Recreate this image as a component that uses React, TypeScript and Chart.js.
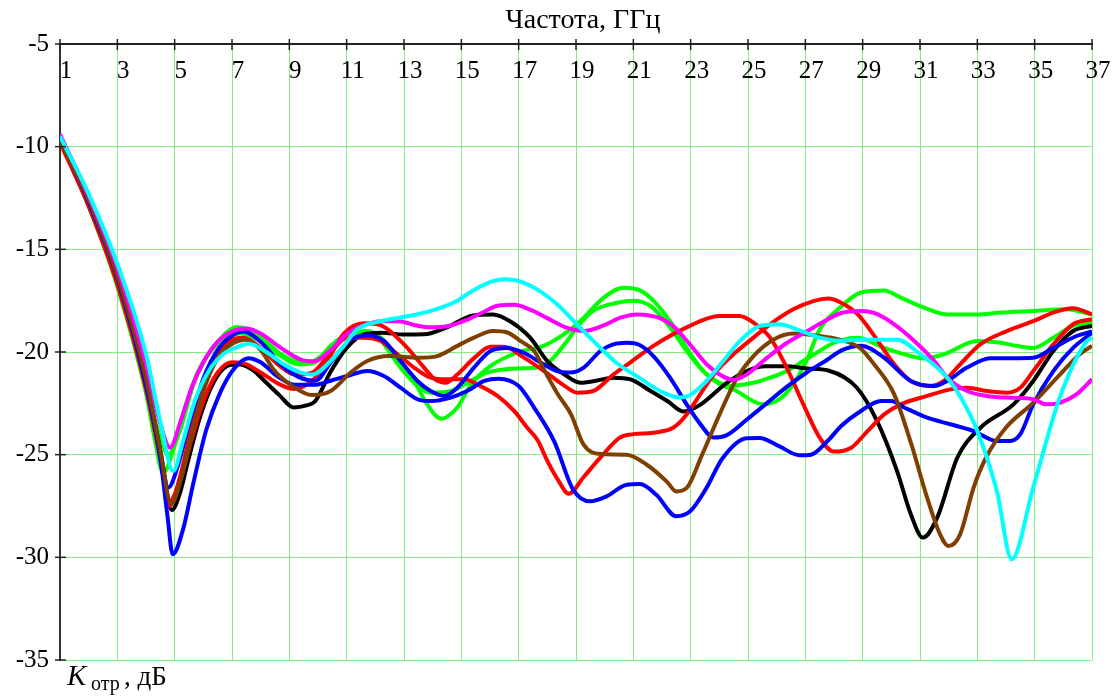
import { useEffect, useRef } from 'react';
import { Chart, registerables } from 'chart.js';

Chart.register(...registerables);

const FONT = '"Liberation Serif", "Times New Roman", serif';
const GRID = '#84ee84';

const xTicks = [1, 3, 5, 7, 9, 11, 13, 15, 17, 19, 21, 23, 25, 27, 29, 31, 33, 35, 37];
const yTicks = [-5, -10, -15, -20, -25, -30, -35];
const titleText = 'Частота, ГГц';

const cyanPts: number[][] = [[1,-9.5],[2,-12.3],[3,-15.7],[4,-20.1],[4.5,-23.4],[4.95,-25.8],[5.3,-24.3],[5.7,-22.4],[6.2,-20.9],[6.7,-20.1],[7.2,-19.75],[7.6,-19.6],[8.2,-20.0],[8.8,-20.6],[9.4,-21.0],[9.8,-21.1],[10.44,-20.44],[10.9,-19.7],[11.37,-18.9],[12.19,-18.5],[13.35,-18.2],[14.16,-17.9],[14.86,-17.5],[15.3,-17.1],[16.0,-16.6],[16.5,-16.46],[17.0,-16.54],[17.64,-16.95],[18.34,-17.68],[19.03,-18.65],[19.73,-19.63],[20.43,-20.55],[21.2,-21.25],[21.93,-21.9],[22.63,-22.22],[22.98,-22.1],[23.56,-21.4],[24.14,-20.44],[24.72,-19.46],[25.42,-18.73],[26.1,-18.65],[26.8,-18.95],[27.5,-19.3],[28.2,-19.45],[29.0,-19.4],[30.2,-19.4],[31.0,-20.1],[31.95,-21.25],[32.5,-22.4],[33.0,-23.85],[33.68,-26.77],[34.2,-30.1],[34.95,-26.6],[35.88,-22.2],[36.8,-19.5],[37,-19.3]];

const magentaPts: number[][] = [[1,-9.4],[2,-12.4],[3,-15.9],[4,-20.6],[4.5,-23.5],[4.84,-24.66],[5.2,-23.4],[5.6,-21.7],[6.0,-20.5],[6.5,-19.5],[7.0,-19.0],[7.5,-18.86],[8.0,-19.1],[8.7,-19.8],[9.4,-20.37],[9.87,-20.45],[10.44,-19.9],[11.02,-19.1],[11.6,-18.7],[12.2,-18.5],[12.8,-18.5],[13.4,-18.7],[13.9,-18.8],[14.5,-18.75],[15.2,-18.43],[15.7,-18.1],[16.27,-17.75],[16.85,-17.7],[17.4,-17.94],[18.0,-18.35],[18.7,-18.83],[19.27,-18.98],[19.97,-18.7],[20.55,-18.33],[21.13,-18.17],[21.93,-18.35],[22.4,-18.75],[22.98,-19.64],[23.56,-20.6],[24.14,-21.2],[24.5,-21.35],[24.95,-21.1],[25.65,-20.3],[26.35,-19.56],[27.05,-19.0],[27.6,-18.55],[28.25,-18.1],[28.94,-18.0],[29.4,-18.1],[30.1,-18.65],[30.8,-19.46],[31.5,-20.44],[31.95,-21.25],[32.64,-21.9],[33.33,-22.14],[34.03,-22.22],[34.95,-22.3],[35.4,-22.55],[35.88,-22.47],[36.46,-22.06],[37,-21.33]];

const brownPts: number[][] = [[1,-9.7],[2,-12.6],[3,-16.3],[4,-21.3],[4.5,-24.8],[4.88,-27.4],[5.2,-26.3],[5.6,-24.0],[6.0,-21.9],[6.5,-20.3],[7.0,-19.6],[7.5,-19.4],[8.0,-19.9],[8.45,-20.85],[9.1,-21.65],[9.8,-22.1],[10.44,-21.9],[11.14,-21.0],[11.72,-20.44],[12.5,-20.2],[13.5,-20.28],[14.16,-20.2],[14.86,-19.7],[15.44,-19.3],[16.1,-18.98],[16.6,-19.05],[17.1,-19.5],[17.55,-19.97],[17.9,-20.9],[18.34,-22.0],[18.83,-23.05],[19.26,-24.5],[19.84,-24.97],[20.77,-25.0],[21.47,-25.49],[22.16,-26.3],[22.5,-26.79],[22.86,-26.62],[23.4,-25.0],[24.02,-23.0],[24.6,-21.3],[25.19,-20.2],[25.88,-19.4],[26.6,-19.1],[27.4,-19.2],[28.2,-19.4],[28.9,-19.8],[29.4,-20.6],[30.1,-22.06],[30.7,-24.5],[31.25,-27.1],[31.7,-28.88],[32.0,-29.45],[32.4,-28.88],[32.87,-26.6],[33.3,-25.15],[34.0,-23.68],[34.95,-22.47],[35.88,-21.1],[36.57,-20.11],[37,-19.7]];

const blueAPts: number[][] = [[1,-9.6],[2,-12.7],[3,-16.4],[4,-21.6],[4.5,-25.2],[4.75,-28.0],[4.93,-29.85],[5.3,-28.6],[5.65,-26.4],[6.1,-23.8],[6.58,-22.0],[7.05,-20.85],[7.57,-20.3],[8.0,-20.5],[8.6,-21.2],[9.2,-21.6],[9.87,-21.6],[10.44,-21.4],[11.02,-21.17],[11.72,-20.93],[12.3,-21.17],[12.88,-21.74],[13.47,-22.3],[13.93,-22.39],[14.63,-22.22],[15.2,-21.9],[15.8,-21.41],[16.3,-21.3],[17.0,-21.66],[17.55,-22.73],[18.24,-24.35],[18.9,-26.7],[19.5,-27.27],[20.07,-27.03],[20.77,-26.46],[21.23,-26.43],[21.8,-26.95],[22.5,-28.0],[22.98,-27.76],[23.56,-26.6],[24.1,-25.2],[24.95,-24.2],[25.4,-24.19],[26.1,-24.6],[26.8,-25.03],[27.2,-25.0],[27.8,-24.3],[28.25,-23.6],[28.94,-22.87],[29.64,-22.39],[30.0,-22.39],[30.45,-22.7],[31.25,-23.2],[32.06,-23.52],[32.87,-23.85],[33.68,-24.33],[34.14,-24.33],[34.5,-24.0],[34.95,-22.55],[35.65,-20.93],[36.34,-19.8],[37,-19.06]];

const blueBPts: number[][] = [[1,-9.6],[2,-12.6],[3,-16.3],[4,-21.5],[4.5,-24.9],[4.78,-26.6],[5.1,-25.6],[5.5,-23.5],[6.0,-21.3],[6.5,-19.9],[7.0,-19.2],[7.4,-19.0],[8.0,-19.5],[8.7,-20.6],[9.3,-21.2],[9.9,-21.4],[10.5,-20.4],[11.14,-19.4],[11.72,-19.2],[12.3,-19.46],[12.88,-20.44],[13.47,-21.41],[13.93,-21.9],[14.4,-22.14],[14.86,-21.74],[15.44,-20.76],[16.02,-19.95],[16.6,-19.8],[17.19,-20.05],[17.87,-20.6],[18.34,-20.93],[18.8,-21.0],[19.27,-20.76],[19.85,-19.95],[20.3,-19.63],[20.78,-19.55],[21.2,-19.65],[21.7,-20.2],[22.28,-21.25],[22.86,-22.55],[23.33,-23.5],[23.8,-24.17],[24.26,-24.05],[24.95,-23.3],[25.65,-22.5],[26.35,-21.7],[27.05,-21.0],[27.74,-20.4],[28.3,-19.9],[28.94,-19.7],[29.75,-20.28],[30.68,-21.41],[31.5,-21.66],[31.95,-21.41],[32.64,-20.76],[33.45,-20.3],[34.26,-20.3],[34.95,-20.28],[35.65,-19.8],[36.46,-19.22],[37,-19.0]];

const redXPts: number[][] = [[1,-9.8],[2,-12.9],[3,-16.7],[4,-21.8],[4.5,-25.2],[4.8,-27.3],[5.2,-26.2],[5.6,-24.2],[6.0,-22.4],[6.5,-21.0],[7.0,-20.5],[7.5,-20.6],[8.0,-21.0],[8.7,-21.6],[9.17,-21.8],[9.87,-21.3],[10.45,-20.13],[10.9,-19.1],[11.6,-18.6],[12.2,-18.7],[13.0,-19.63],[13.7,-20.76],[14.05,-21.3],[14.45,-21.5],[14.86,-21.1],[15.44,-20.3],[16.02,-19.75],[16.5,-19.75],[17.1,-20.2],[17.9,-20.94],[18.6,-21.65],[19.05,-21.98],[19.6,-21.9],[20.3,-21.1],[20.9,-20.5],[21.7,-19.7],[22.86,-18.8],[24.0,-18.25],[24.7,-18.25],[25.19,-18.57],[25.77,-19.3],[26.35,-20.76],[26.93,-22.55],[27.5,-24.17],[28.0,-24.85],[28.6,-24.66],[29.17,-23.85],[29.75,-23.04],[30.33,-22.55],[31.25,-22.14],[32.06,-21.82],[32.64,-21.74],[33.33,-21.9],[34.03,-21.98],[34.5,-21.74],[34.95,-20.93],[35.65,-19.63],[36.34,-18.65],[37,-18.4]];

const redYPts: number[][] = [[1,-9.7],[2,-12.8],[3,-16.6],[4,-21.7],[4.5,-25.0],[4.82,-27.5],[5.2,-26.0],[5.6,-23.6],[6.0,-21.6],[6.5,-20.1],[7.0,-19.4],[7.4,-19.3],[8.0,-19.8],[8.6,-20.6],[9.2,-21.1],[9.8,-21.0],[10.45,-20.0],[11.02,-19.3],[11.6,-19.3],[12.19,-19.46],[12.77,-20.11],[13.35,-20.76],[13.93,-21.25],[14.5,-21.33],[15.1,-21.33],[15.67,-21.66],[16.26,-22.14],[16.84,-22.87],[17.3,-23.69],[17.66,-24.3],[18.0,-25.3],[18.36,-26.2],[18.75,-26.9],[19.26,-26.1],[19.84,-25.16],[20.53,-24.17],[21.0,-24.0],[21.7,-23.93],[22.4,-23.68],[22.86,-23.04],[23.33,-22.06],[23.9,-20.93],[24.5,-20.1],[25.19,-19.3],[25.77,-18.65],[26.58,-17.92],[27.28,-17.52],[27.8,-17.4],[28.25,-17.6],[28.83,-18.17],[29.4,-19.2],[30.1,-20.6],[30.68,-21.41],[31.37,-21.65],[31.83,-21.41],[32.4,-20.6],[33.1,-19.63],[34.03,-18.98],[34.95,-18.5],[35.65,-18.08],[36.34,-17.87],[37,-18.17]];

const blackPts: number[][] = [[1,-9.7],[2,-12.7],[3,-16.4],[4,-21.4],[4.5,-24.8],[4.9,-27.7],[5.2,-26.8],[5.45,-25.4],[5.9,-23.1],[6.35,-21.5],[6.8,-20.7],[7.2,-20.6],[7.7,-20.85],[8.2,-21.5],[8.65,-22.1],[9.15,-22.7],[9.6,-22.6],[9.9,-22.4],[10.45,-20.94],[11.0,-19.8],[11.6,-19.14],[12.2,-19.06],[13.0,-19.15],[13.7,-19.14],[14.5,-18.8],[15.4,-18.22],[16.1,-18.17],[16.7,-18.5],[17.4,-19.3],[18.0,-20.44],[18.6,-21.1],[19.15,-21.5],[19.7,-21.4],[20.3,-21.25],[20.9,-21.33],[21.6,-21.9],[22.2,-22.4],[22.74,-22.9],[23.3,-22.6],[24.26,-21.5],[25.0,-20.9],[25.6,-20.7],[26.35,-20.7],[27.05,-20.8],[27.8,-20.9],[28.8,-21.74],[29.5,-23.36],[30.2,-25.8],[30.68,-27.9],[31.1,-29.04],[31.6,-28.07],[32.3,-25.15],[33.1,-23.7],[34.26,-22.55],[34.95,-21.41],[35.65,-19.95],[36.34,-18.98],[37,-18.73]];

const greenAPts: number[][] = [[1,-9.7],[2,-12.8],[3,-16.6],[4,-21.8],[4.5,-24.2],[4.78,-25.0],[5.19,-23.8],[5.65,-21.6],[6.0,-20.5],[6.47,-19.55],[7.16,-18.8],[7.7,-19.0],[8.2,-19.5],[8.7,-20.1],[9.4,-20.5],[9.9,-20.4],[10.44,-19.8],[11.0,-19.2],[11.4,-19.05],[12.0,-19.2],[12.88,-20.76],[13.47,-21.65],[13.93,-21.98],[14.63,-21.9],[15.33,-21.41],[15.9,-21.0],[16.95,-20.8],[17.64,-20.76],[18.1,-20.44],[18.69,-19.46],[19.03,-18.8],[19.6,-18.0],[20.43,-17.6],[21.0,-17.5],[21.6,-17.76],[22.28,-18.8],[22.86,-19.95],[23.44,-20.93],[24.0,-21.5],[24.4,-21.65],[25.19,-21.5],[25.77,-21.25],[26.35,-20.93],[26.93,-20.44],[27.5,-19.95],[28.0,-19.55],[28.83,-19.3],[29.75,-19.8],[30.68,-20.2],[31.14,-20.31],[31.83,-20.11],[33.0,-19.46],[33.8,-19.55],[34.37,-19.7],[34.95,-19.8],[35.65,-19.3],[36.34,-18.73],[37,-18.57]];

const greenCPts: number[][] = [[1,-9.7],[2,-12.9],[3,-16.8],[4,-22.0],[4.3,-24.2],[4.6,-25.9],[4.9,-25.0],[5.3,-23.0],[5.8,-21.0],[6.3,-19.9],[6.8,-19.3],[7.3,-19.1],[7.9,-19.4],[8.6,-20.1],[9.3,-20.6],[9.9,-20.5],[10.44,-19.7],[11.14,-19.06],[11.72,-18.98],[12.19,-19.3],[12.77,-20.28],[13.35,-21.41],[13.81,-22.55],[14.28,-23.25],[14.86,-22.7],[15.33,-21.6],[16.0,-20.7],[17.0,-20.0],[17.87,-19.7],[18.57,-19.14],[19.15,-18.5],[19.97,-17.35],[20.66,-16.87],[21.23,-17.0],[21.7,-17.5],[22.28,-18.5],[22.86,-19.8],[23.44,-20.93],[24.02,-21.57],[24.6,-21.9],[25.19,-22.4],[25.53,-22.55],[26.1,-22.3],[26.58,-21.57],[27.05,-20.4],[27.5,-18.9],[28.2,-17.85],[28.94,-17.1],[29.75,-17.0],[30.33,-17.35],[31.14,-17.84],[31.95,-18.17],[33.0,-18.17],[33.8,-18.08],[34.95,-18.0],[36.1,-17.92],[37,-18.17]];

const series = [
  { name: 'cyan', color: '#00ffff', pts: cyanPts },
  { name: 'magenta', color: '#ff00ff', pts: magentaPts },
  { name: 'brown', color: '#7f3f00', pts: brownPts },
  { name: 'blueA', color: '#0000ff', pts: blueAPts },
  { name: 'blueB', color: '#0000ff', pts: blueBPts },
  { name: 'redX', color: '#ff0000', pts: redXPts },
  { name: 'redY', color: '#ff0000', pts: redYPts },
  { name: 'black', color: '#000000', pts: blackPts },
  { name: 'greenA', color: '#00ff00', pts: greenAPts },
  { name: 'greenC', color: '#00ff00', pts: greenCPts },
];

const overlay = {
  id: 'overlay',
  afterDraw(chart: any) {
    const { ctx, chartArea, scales } = chart;
    ctx.save();
    ctx.strokeStyle = '#222';
    ctx.lineWidth = 1.5;
    xTicks.forEach((v) => {
      const px = scales.x.getPixelForValue(v);
      ctx.beginPath();
      ctx.moveTo(px, chartArea.top - 5);
      ctx.lineTo(px, chartArea.top + 6);
      ctx.stroke();
    });
    yTicks.forEach((v) => {
      const py = scales.y.getPixelForValue(v);
      ctx.beginPath();
      ctx.moveTo(chartArea.left - 5, py);
      ctx.lineTo(chartArea.left + 6, py);
      ctx.stroke();
    });
    ctx.fillStyle = '#000';
    ctx.font = `25px ${FONT}`;
    ctx.textAlign = 'center';
    ctx.textBaseline = 'alphabetic';
    xTicks.forEach((v) => {
      const px = scales.x.getPixelForValue(v);
      ctx.fillText(String(v), px + 6, chartArea.top + 34);
    });
    ctx.font = `28px ${FONT}`;
    ctx.fillText(titleText, 583, 28);
    ctx.textAlign = 'left';
    ctx.font = `italic 29px ${FONT}`;
    ctx.fillText('K', 67, 685);
    ctx.font = `20px ${FONT}`;
    ctx.fillText('отр', 91, 690);
    ctx.font = `27px ${FONT}`;
    ctx.fillText(', дБ', 124, 685);
    ctx.restore();
  },
};

export default function App() {
  const ref = useRef<HTMLCanvasElement>(null);
  useEffect(() => {
    if (!ref.current) return;
    const chart = new Chart(ref.current, {
      type: 'line',
      data: {
        datasets: series.map((s) => ({
          label: s.name,
          data: s.pts.map(([x, y]) => ({ x, y })),
          borderColor: s.color,
          backgroundColor: s.color,
          borderWidth: 4,
          pointRadius: 0,
          cubicInterpolationMode: 'monotone' as const,
          fill: false,
        })),
      },
      options: {
        responsive: false,
        animation: false,
        devicePixelRatio: 1,
        layout: { padding: { left: 0, right: 26, top: 0, bottom: 37 } },
        plugins: { legend: { display: false }, tooltip: { enabled: false } },
        scales: {
          x: {
            type: 'linear',
            position: 'top',
            min: 1,
            max: 37,
            ticks: { stepSize: 2, display: false },
            grid: { color: GRID, lineWidth: 1, drawTicks: false },
            border: { display: true, color: '#222', width: 2 },
            afterFit: (s: any) => { s.height = 44; },
          },
          y: {
            type: 'linear',
            min: -35,
            max: -5,
            ticks: {
              stepSize: 5,
              padding: 11,
              color: '#000',
              font: { family: FONT, size: 25 },
              callback: (v: any) => String(v),
            },
            grid: { color: GRID, lineWidth: 1, drawTicks: false },
            border: { display: true, color: '#333', width: 2 },
            afterFit: (s: any) => { s.width = 60; },
          },
        },
      },
      plugins: [overlay],
    } as any);
    return () => chart.destroy();
  }, []);
  return (
    <div style={{ position: 'fixed', left: 0, top: 0, width: 1118, height: 697, background: '#fff' }}>
      <canvas ref={ref} width={1118} height={697} style={{ display: 'block' }} />
    </div>
  );
}
